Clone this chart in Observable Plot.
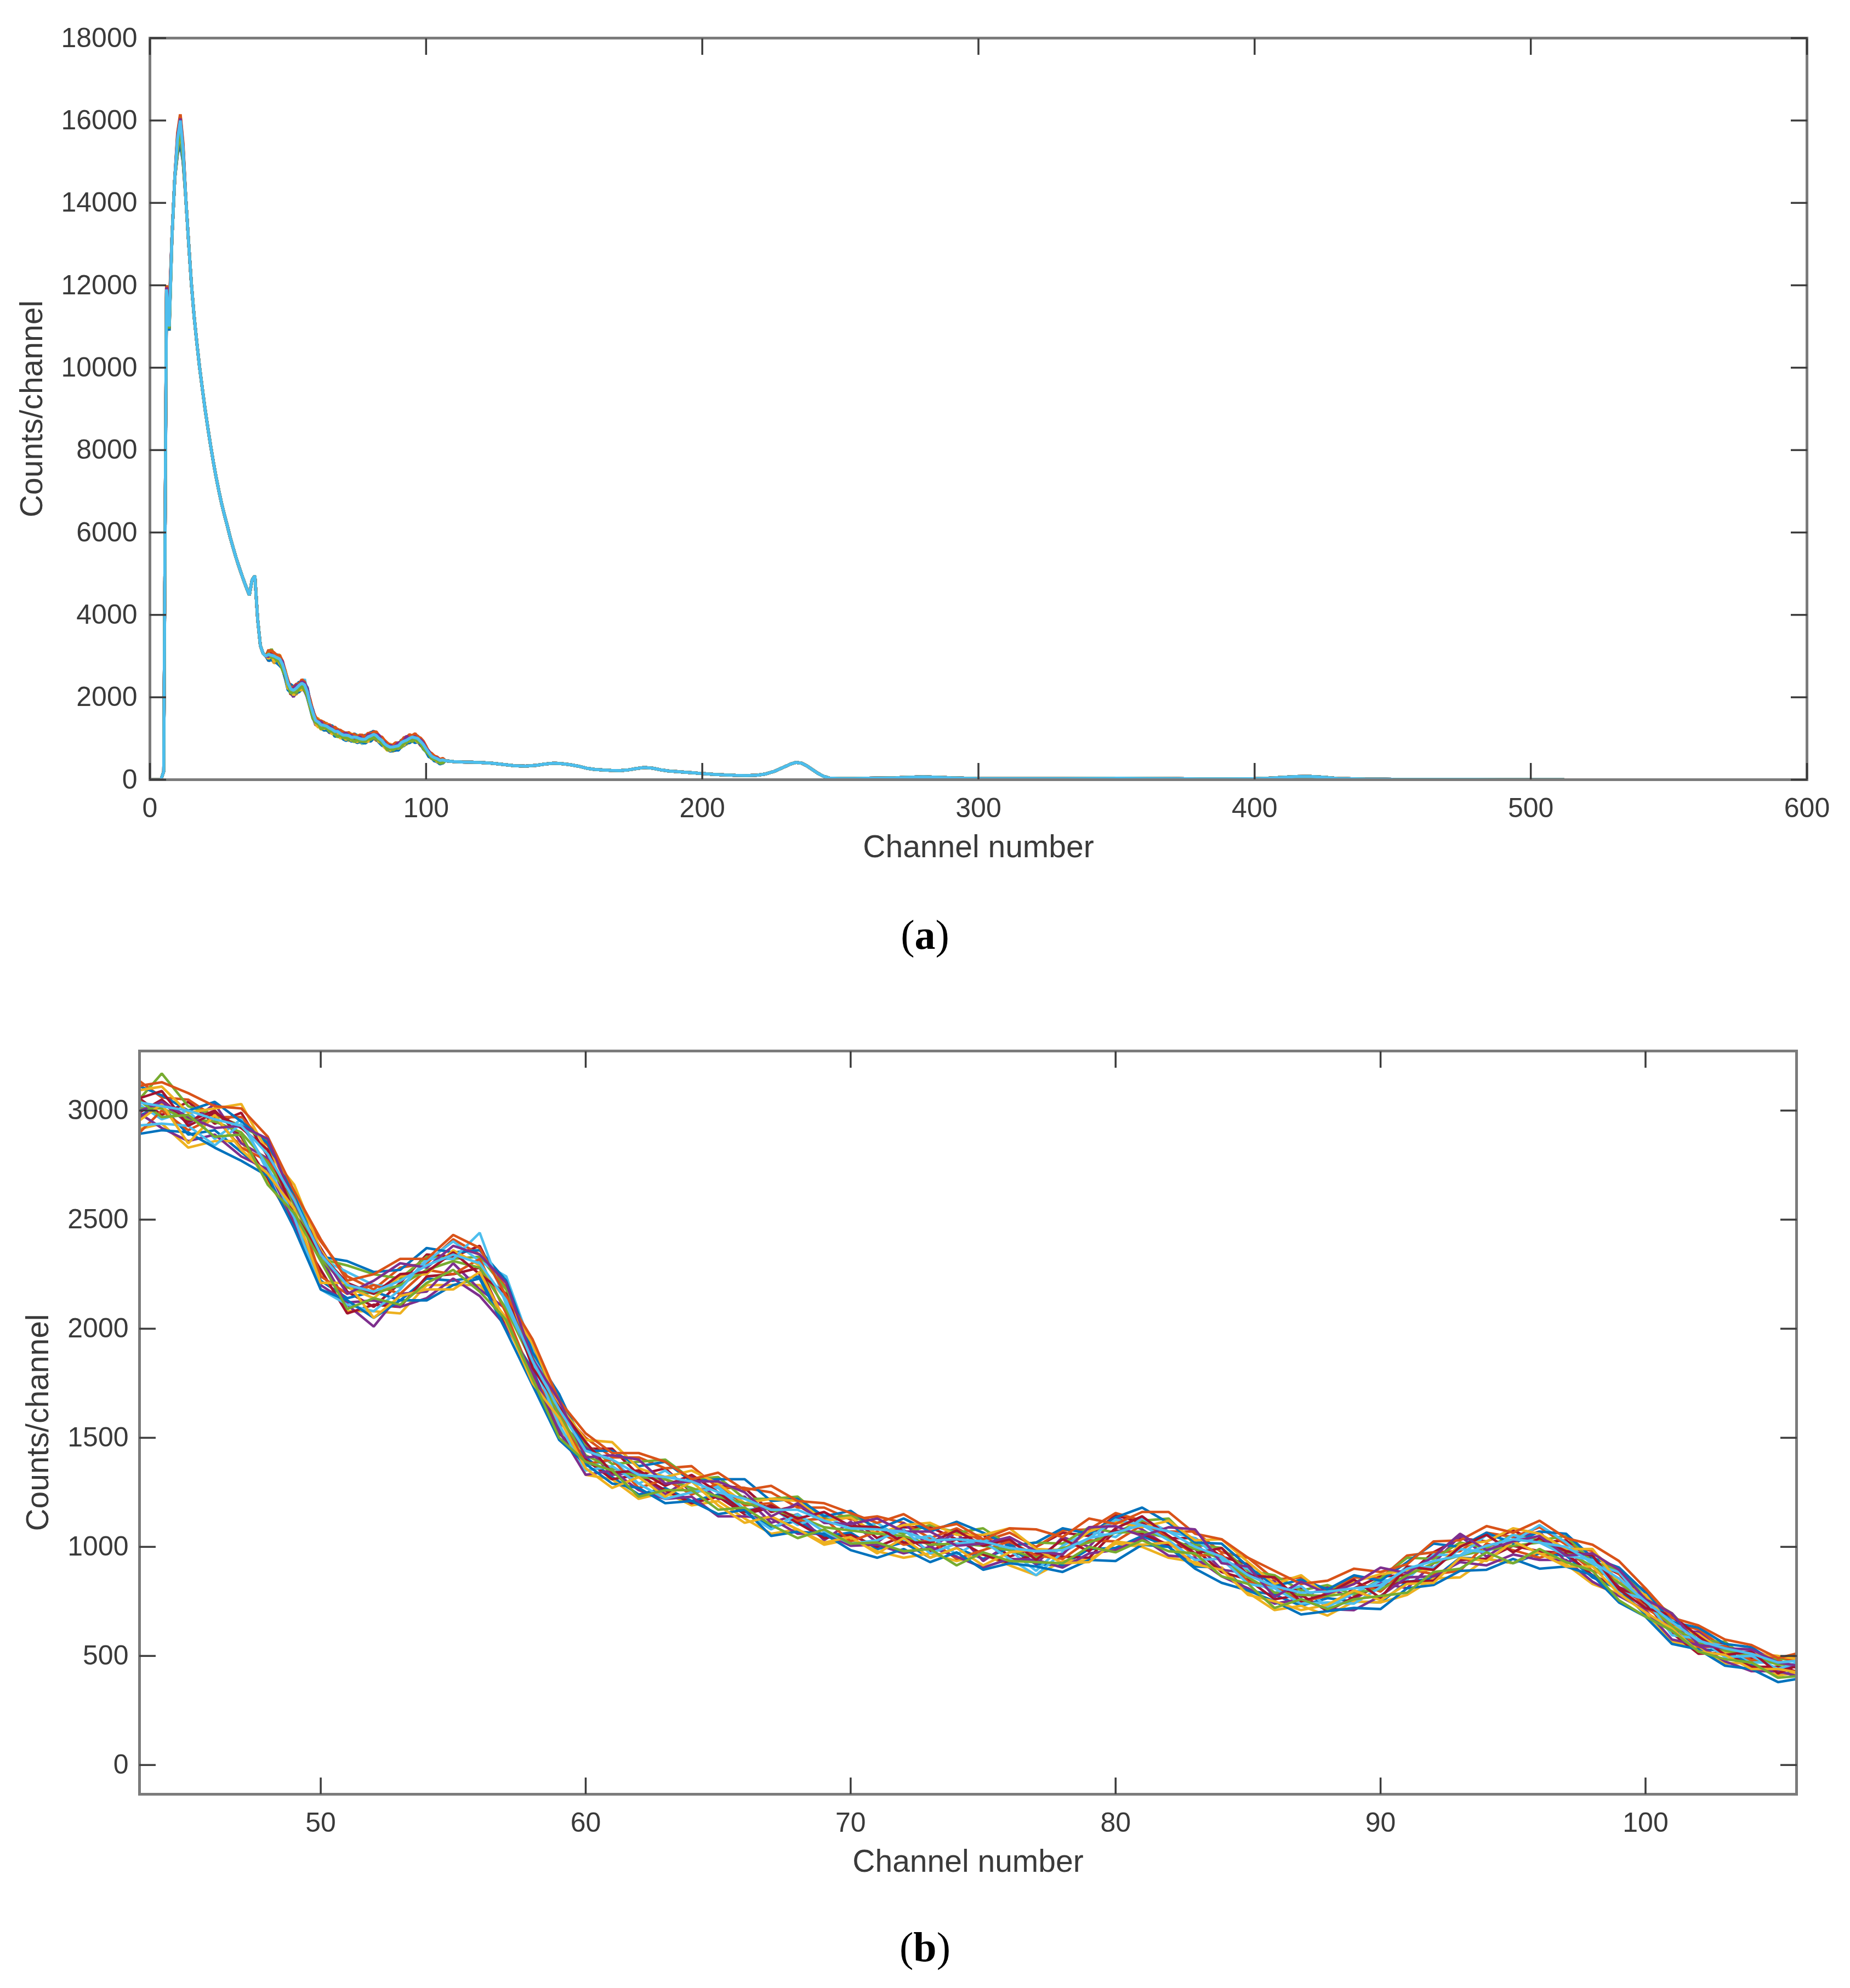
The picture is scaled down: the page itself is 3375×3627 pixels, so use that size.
<!DOCTYPE html>
<html><head><meta charset="utf-8">
<script src="https://cdn.jsdelivr.net/npm/d3@7"></script>
<script src="https://cdn.jsdelivr.net/npm/@observablehq/plot@0.6"></script>
<style>
html,body{margin:0;padding:0;background:#fff;}
#page{position:relative;width:3375px;height:3627px;background:#fff;overflow:hidden;}
.panel{position:absolute;left:0;}
.cap{position:absolute;left:0;width:3375px;text-align:center;font-family:"Liberation Serif","Times New Roman",serif;font-size:76px;color:#000;line-height:1;}
</style></head><body><div id="page">
<div id="pa" class="panel" style="top:0"></div>
<div class="cap" style="top:1667px">(<b>a</b>)</div>
<div id="pb" class="panel" style="top:1800px"></div>
<div class="cap" style="top:3514px">(<b>b</b>)</div>
</div>
<script>
// ---------- data ----------
const matlabColors = ["#0072BD","#D95319","#EDB120","#7E2F8E","#77AC30","#4DBEEE","#A2142F"];

// panel (a): channels 0..42 (shared shape)
const chanHeadA = [0,1,2,3,4,5,6,7,8,9,10,11,12,13,14,15,16,17,18,19,20,21,22,23,24,25,26,27,28,29,30,31,32,33,34,35,36,37,38,39,40,41,42];
const countsHeadA = [0,0,0,0,0,200,11900,11000,13200,14600,15500,15950,15250,14100,13050,12050,11250,10600,10000,9480,8980,8530,8100,7700,7330,7000,6690,6420,6170,5900,5660,5430,5220,5020,4830,4650,4480,4850,4950,3900,3250,3060,3000];
// per-spectrum values around the first peak (channels 6,7,10,11,12)
const peakChA = [6,7,10,11,12];
const peakS1 = [11950,10950,15550,16050,15300];
const peakS2 = [11800,11300,15400,15800,15200];
const peakS3 = [11900,11100,15600,16000,15350];
const peakS4 = [11850,10900,15300,15700,15100];
const peakS5 = [11700,11400,15200,15500,15000];
const peakS6 = [12000,11000,15650,16100,15400];
const peakS7 = [11950,11200,15500,16000,15250];
const peakS8 = [11900,10950,15450,15900,15200];
const peakS9 = [11850,11250,15550,16050,15300];
const peakS10 = [11950,11050,15350,15850,15150];
const peakS11 = [11900,11150,15500,15950,15250];
const peakS12 = [11750,11350,15250,15600,15050];
const peakS13 = [11950,11000,15600,16100,15350];
const peakS14 = [11900,11100,15450,15950,15250];
const peakS15 = [11850,11200,15500,15900,15300];
const peakS16 = [11700,10900,15200,15450,15000];
const peakS17 = [12000,11500,15700,16150,15450];
const peakS18 = [11800,11050,15300,15750,15100];
const peakS19 = [11950,11300,15600,16050,15350];
const peakS20 = [11750,10950,15350,15800,15150];
const peakS21 = [11900,11000,15550,16000,15300];

// panel (a): tail channels 107..512 (shared)
const chanTailA = [107,110,113,116,120,124,128,132,136,140,143,146,149,152,155,158,161,164,167,170,173,176,179,182,185,188,191,194,197,200,204,208,212,216,220,223,226,229,232,234,236,238,240,242,244,246,250,255,260,265,270,275,280,285,290,295,300,310,320,330,340,350,360,370,380,390,400,405,410,415,420,425,430,440,450,460,470,480,490,500,512];
const countsTailA = [460,440,430,425,415,400,370,340,330,350,380,400,390,365,330,280,250,235,225,220,235,270,295,280,240,210,195,180,165,150,130,115,105,100,110,140,200,290,380,420,400,330,240,150,80,40,30,30,35,40,45,60,70,60,45,35,30,25,25,25,30,35,30,25,20,20,25,35,55,75,80,60,30,15,10,8,6,5,4,3,2];

// panel (b): channels 43..106, band middle and each spectrum's deviation from it
const chanB = [43,44,45,46,47,48,49,50,51,52,53,54,55,56,57,58,59,60,61,62,63,64,65,66,67,68,69,70,71,72,73,74,75,76,77,78,79,80,81,82,83,84,85,86,87,88,89,90,91,92,93,94,95,96,97,98,99,100,101,102,103,104,105,106];
const midB = [3010,3000,2960,2940,2900,
 2760,2560,2300,2180,2160,2190,2250,2290,2270,2090,
 1830,1600,1420,1370,1320,1300,1270,1240,1200,1160,1140,1100,1075,
 1050,1050,1020,1015,995,985,960,985,1020,1055,1070,1050,990,935,860,
 800,780,765,790,815,870,915,960,995,1005,1010,980,920,835,
 740,635,570,525,490,460,460];
const devB1 = [60,-20,80,0,90,
 30,10,70,-10,-60,20,90,40,110,50,
 20,60,30,80,10,60,-20,40,70,0,50,20,60,
 -10,40,70,20,60,-30,40,80,30,90,40,-10,50,20,60,
 -20,30,-40,20,50,0,60,80,30,70,10,50,20,40,
 10,40,-10,30,0,20,-30];
const devB2 = [-40,20,-70,-30,-90,
 -50,-20,-80,-40,10,-60,-20,-70,-30,-80,
 -20,-60,-10,-50,-80,-30,-60,0,-40,-70,-20,-50,-10,
 -60,-30,-70,-20,-50,10,-40,-70,-30,-60,-20,-50,-80,-30,-60,
 -20,-50,0,-40,-70,-30,-60,-10,-50,-80,-40,-20,-60,-30,
 -50,-10,-40,0,-30,-50,-20];
const devB3 = [140,60,90,30,70,
 80,40,100,60,20,90,50,120,70,100,
 90,30,80,40,90,60,100,30,70,90,40,80,50,
 90,60,20,70,30,80,40,90,60,100,50,20,80,40,90,
 50,80,30,70,40,90,60,20,70,40,80,30,60,40,
 60,20,50,10,40,20,50];
const devB4 = [-100,-60,-130,-80,-40,
 -90,-60,-40,-100,-80,-120,-50,-90,-70,-40,
 -80,-40,-90,-60,-100,-50,-80,-30,-70,-100,-60,-90,-40,
 -70,-100,-50,-80,-30,-70,-90,-50,-80,-40,-70,-100,-60,-30,-70,
 -90,-50,-80,-40,-70,-90,-60,-100,-50,-80,-30,-60,-90,-50,
 -40,-70,-30,-60,-20,-50,-30];
const devB5 = [-60,40,-20,90,-50,
 20,-40,30,-70,-150,-30,-80,10,-90,0,
 60,-30,40,-40,20,-60,50,-20,30,-50,10,-70,40,
 -30,60,-20,50,-60,30,-40,60,-20,80,10,-50,30,-40,20,
 40,-10,50,-30,20,-60,10,90,-40,30,60,-50,40,-20,
 30,-20,40,-10,30,-30,10];
const devB6 = [20,170,60,40,30,
 100,70,20,110,90,40,80,30,60,90,
 40,80,50,10,70,100,40,80,20,60,90,30,70,
 40,10,80,50,90,20,60,30,70,10,50,80,20,60,30,
 70,20,60,-10,40,80,30,60,0,50,20,70,10,60,
 30,60,0,40,-20,30,10];
const devB7 = [30,-40,40,-70,60,
 -40,60,20,80,40,0,60,110,40,150,
 70,0,-50,30,-30,50,-10,40,-30,20,-40,50,0,
 60,-20,30,-50,40,0,-70,20,50,-10,60,20,50,0,40,
 -10,40,-40,0,30,-20,50,0,60,20,90,40,0,50,
 -10,30,0,20,-20,10,-10];
const devB8 = [-30,50,-10,60,-20,
 -70,-90,-30,-110,-50,-90,-10,-40,10,-70,
 -50,-80,-20,-60,10,-40,-70,-10,-50,20,-30,-60,-20,
 -50,0,-40,20,-30,-60,10,-30,-70,20,-10,-40,0,-50,-10,
 -40,0,-60,-20,10,-30,-70,-20,-50,0,-30,-10,-50,-20,
 0,-30,-60,-10,-40,-10,-40];
const devB9 = [110,70,40,100,50,
 90,50,30,130,100,80,120,60,90,130,
 60,100,20,70,50,90,30,70,110,50,80,40,90,
 30,80,50,100,70,20,60,100,40,80,110,60,30,80,50,
 20,70,40,80,30,60,100,40,70,10,60,80,30,70,
 50,20,60,30,50,0,40];
const devB10 = [-130,0,-50,30,-70,
 10,40,-60,-20,40,-30,20,-40,50,-20,
 -60,20,-40,30,-50,10,-30,50,-10,40,-20,30,-50,
 20,-40,10,-70,-10,40,0,-40,10,-30,30,0,-30,30,-20,
 20,-30,10,50,-20,30,-40,-70,20,-20,-60,10,-30,20,
 -20,10,-30,20,-10,40,0];
const devB11 = [80,110,30,70,130,
 50,100,60,10,-20,50,0,70,20,40,
 100,50,70,110,40,20,80,50,0,60,70,20,60,
 10,50,90,40,60,100,30,0,50,60,20,70,40,100,70,
 30,90,10,50,60,20,-20,50,30,80,50,10,70,0,
 40,0,30,-10,20,40,20];
const devB12 = [-10,-80,-100,-50,-110,
 -30,-70,-100,-60,-30,-90,-110,-60,-120,-80,
 -30,-70,-90,-20,-60,-80,-40,-100,-60,-30,-80,-40,-70,
 -40,-80,-20,-60,-90,-40,-20,-80,-50,-70,-30,-90,-40,-70,-50,
 -60,-20,-50,-80,-40,-10,-50,-30,-80,-40,-70,-40,-80,-60,
 -30,-60,-20,-50,-60,-30,-60];
const devB13 = [0,10,0,10,0,
 0,10,20,10,0,10,20,20,10,0,
 10,0,0,-10,0,10,0,-10,0,10,0,-10,0,
 10,0,-10,0,10,0,-10,10,0,10,0,-10,0,10,0,
 -10,0,10,0,-10,0,10,0,-10,0,10,0,-10,0,
 10,0,-10,0,10,0,0];
const devB14 = [-80,-60,-30,-100,40,
 -20,-50,-120,-70,-80,-10,70,30,170,20,
 20,-40,-70,0,-30,-80,-20,30,-40,-80,10,-30,-60,
 -20,30,-50,0,30,-40,-90,-10,20,70,30,-20,-50,10,-30,
 10,-40,-20,-50,0,40,-10,30,-20,50,10,-20,20,-40,
 20,-40,10,-30,10,-20,20];
const devB15 = [40,90,-30,50,20,
 60,-30,40,30,0,60,10,60,-20,70,
 -10,40,60,-30,30,-20,60,10,-40,30,-10,60,20,
 40,-30,0,60,10,50,-20,50,-40,30,70,0,-20,60,10,
 60,-30,20,60,-50,40,-20,40,60,-30,30,0,40,-30,
 -20,50,20,-20,30,-40,10];
const devB16 = [-120,-90,-60,-110,-130,
 -60,-100,-120,-50,-110,-60,-120,-90,-40,-100,
 -90,-110,-40,-80,-50,-100,-60,-90,-30,-110,-70,-40,-90,
 -100,-60,-90,-40,-100,-60,-50,-100,-80,-120,-60,-50,-90,-100,-60,
 -50,-90,-60,-70,-100,-60,-90,-70,-100,-60,-110,-70,-50,-90,
 -60,-80,-40,-70,-50,-80,-60];
const devB17 = [100,130,120,80,110,
 120,70,110,40,90,130,70,140,100,60,
 120,70,100,60,110,90,40,100,60,120,70,100,80,
 60,100,60,90,40,100,120,60,110,50,90,110,70,100,90,
 90,50,80,110,70,50,110,70,100,60,110,60,90,100,
 70,40,70,50,60,30,60];
const devB18 = [-70,30,-110,40,-80,
 -50,-10,-90,30,-110,-40,-70,-110,-10,-60,
 -80,-10,-60,-100,0,-70,30,-50,-90,-20,-60,-80,-30,
 -80,-10,-70,-20,-80,-10,30,-60,-90,-30,-60,-30,-70,-40,-80,
 -50,-70,-30,10,-60,-40,-80,-10,-60,20,-40,-70,-10,-50,
 -40,-10,-50,-20,-50,-20,-40];
const devB19 = [-20,40,10,-20,30,
 110,20,50,-20,60,110,30,90,70,120,
 30,70,-10,50,80,-10,30,60,50,-20,60,10,30,
 80,20,50,-10,20,60,20,-20,70,40,-20,40,90,-10,50,
 -30,60,20,40,90,10,40,100,-10,20,40,-20,50,60,
 20,60,-20,10,40,10,-10];
const devB20 = [50,-30,20,-60,-10,
 -100,-30,10,-90,-20,-80,-40,-20,-100,-50,
 -60,-100,-30,-20,-90,-40,-10,-70,-20,-60,-100,-20,-60,
 -30,-70,-30,-100,-20,-50,-30,-60,-20,-80,-40,-70,-20,-70,-30,
 -80,-20,-50,-30,-40,-80,-30,-60,-20,-80,-20,-50,-30,-80,
 -60,-20,-50,-40,-20,-60,-50];
const devB21 = [30,20,40,20,30,
 40,30,40,20,10,30,40,50,30,40,
 20,30,20,30,10,20,30,10,20,10,30,20,10,
 30,20,10,20,30,10,20,0,20,10,30,20,10,20,10,
 20,10,30,20,10,30,20,0,10,30,10,20,10,20,
 10,20,0,10,20,10,20];

// tick labels
const xTicksA = [0,100,200,300,400,500,600];
const yTicksA = [0,2000,4000,6000,8000,10000,12000,14000,16000,18000];
const xTicksB = [50,60,70,80,90,100];
const yTicksB = [0,500,1000,1500,2000,2500,3000];

// ---------- build tables ----------
const devs = [devB1,devB2,devB3,devB4,devB5,devB6,devB7,devB8,devB9,devB10,devB11,devB12,devB13,devB14,devB15,devB16,devB17,devB18,devB19,devB20,devB21];
const peaks = [peakS1,peakS2,peakS3,peakS4,peakS5,peakS6,peakS7,peakS8,peakS9,peakS10,peakS11,peakS12,peakS13,peakS14,peakS15,peakS16,peakS17,peakS18,peakS19,peakS20,peakS21];
const N = devs.length;

function rowsB(k) {
  return chanB.map((c, i) => ({ch: c, v: midB[i] + devs[k][i]}));
}
function rowsA(k) {
  const head = chanHeadA.map((c, i) => {
    const j = peakChA.indexOf(c);
    return {ch: c, v: j >= 0 ? peaks[k][j] : countsHeadA[i]};
  });
  const tail = chanTailA.map((c, i) => ({ch: c, v: countsTailA[i]}));
  return head.concat(rowsB(k), tail);
}
const colorOf = k => matlabColors[(k + 6) % 7];

const fontFam = '"Liberation Sans", Arial, Helvetica, sans-serif';
const frameColor = "#7b7b7b";
const tickColor = "#3c3c3c";
const textColor = "#3a3a3a";

function boxTicks(xt, yt) {
  const o = {tickFormat: () => "", label: null, stroke: tickColor, strokeWidth: 3.5, tickSize: 30};
  return [
    Plot.axisX({...o, anchor: "bottom", ticks: xt, dy: -30}),
    Plot.axisX({...o, anchor: "top", ticks: xt, dy: 30}),
    Plot.axisY({...o, anchor: "left", ticks: yt, dx: 30}),
    Plot.axisY({...o, anchor: "right", ticks: yt, dx: -30})
  ];
}

function panel({width, height, mL, mR, mT, mB, xDomain, yDomain, xt, yt, sw, ylabDx, ytPad, rows}) {
  const lines = [];
  for (let k = 0; k < N; k++) {
    lines.push(Plot.lineY(rows(k), {x: "ch", y: "v", stroke: colorOf(k), strokeWidth: sw, clip: true, strokeLinejoin: "miter", strokeLinecap: "butt"}));
  }
  return Plot.plot({
    width, height,
    marginLeft: mL, marginRight: mR, marginTop: mT, marginBottom: mB,
    x: {domain: xDomain},
    y: {domain: yDomain},
    style: {fontFamily: fontFam, fontSize: "50px", color: textColor, background: "#fff", overflow: "visible"},
    marks: [
      ...lines,
      Plot.frame({stroke: frameColor, strokeWidth: 5}),
      ...boxTicks(xt, yt),
      Plot.axisX({anchor: "bottom", ticks: xt, tickSize: 0, tickPadding: 33, tickFormat: d => String(d), label: null, fontSize: 50, fill: textColor}),
      Plot.axisY({anchor: "left", ticks: yt, tickSize: 0, tickPadding: ytPad, tickFormat: d => String(d), label: null, fontSize: 50, fill: textColor}),
      Plot.text(["Channel number"], {frameAnchor: "bottom", text: d => d, dy: 123, textAnchor: "middle", lineAnchor: "middle", fontSize: 57, fill: textColor}),
      Plot.text(["Counts/channel"], {frameAnchor: "left", text: d => d, dx: ylabDx, rotate: -90, textAnchor: "middle", lineAnchor: "middle", fontSize: 57, fill: textColor})
    ]
  });
}

document.getElementById("pa").appendChild(panel({
  width: 3375, height: 1600, mL: 273, mR: 79, mT: 69, mB: 178,
  xDomain: [0, 600], yDomain: [0, 18000], xt: xTicksA, yt: yTicksA,
  sw: 5.5, ylabDx: -215, ytPad: 23, rows: rowsA
}));
document.getElementById("pb").appendChild(panel({
  width: 3375, height: 1650, mL: 254, mR: 98, mT: 117, mB: 177,
  xDomain: [43.16, 105.7], yDomain: [-134, 3273], xt: xTicksB, yt: yTicksB,
  sw: 4.6, ylabDx: -185, ytPad: 20, rows: rowsB
}));
</script></body></html>
